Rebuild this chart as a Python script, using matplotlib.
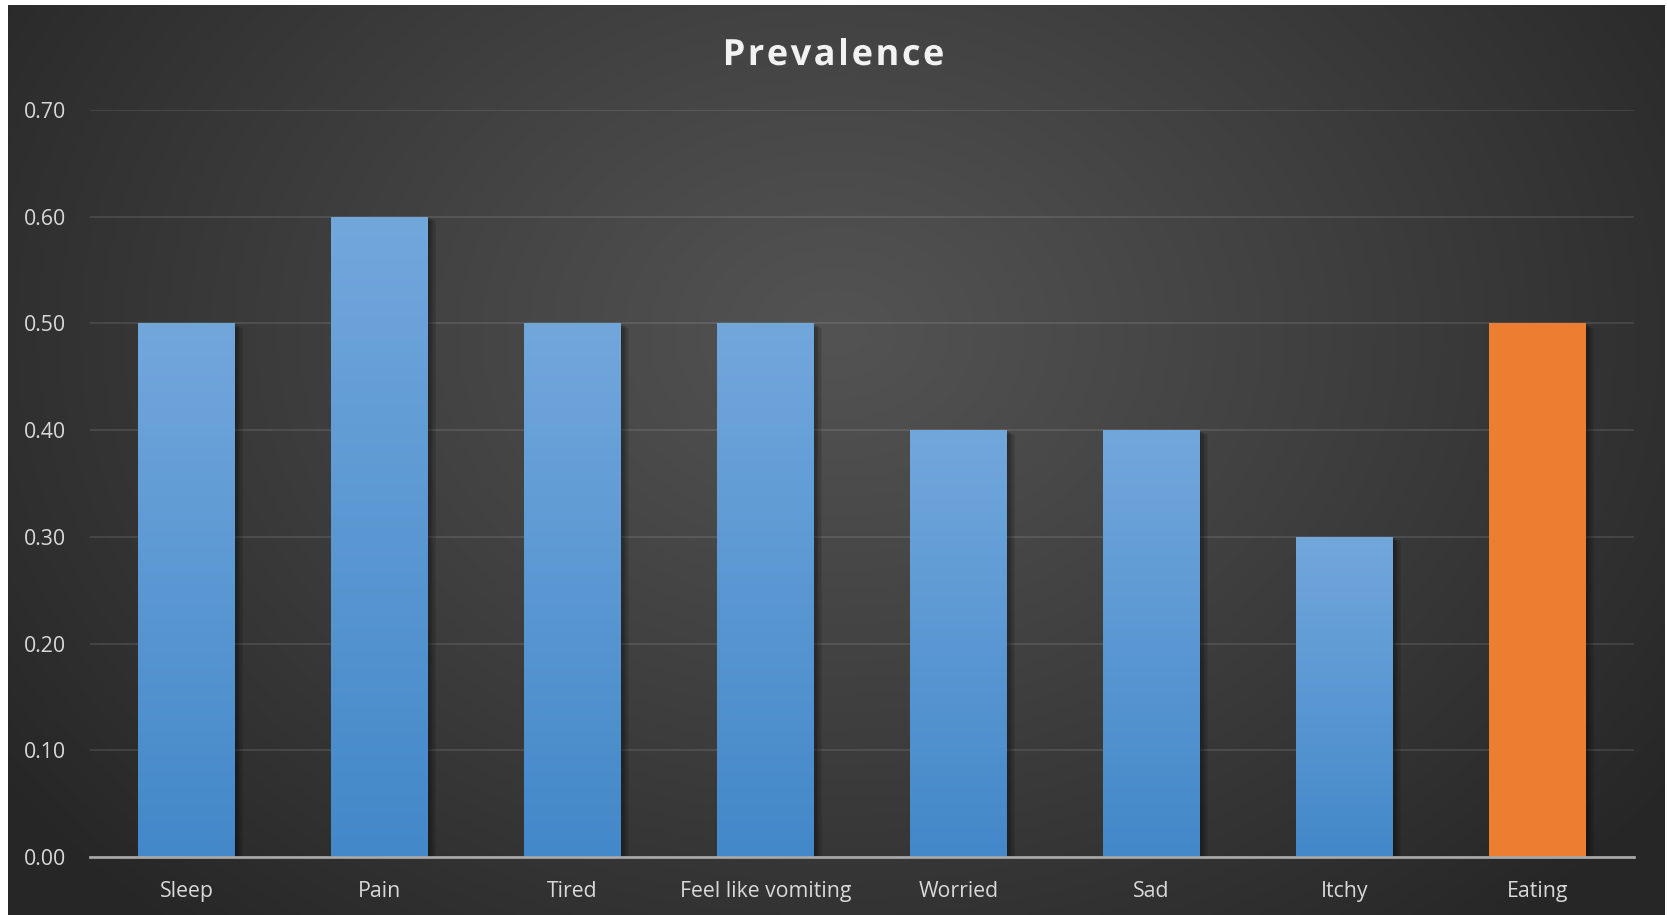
import numpy as np
import matplotlib
matplotlib.use("Agg")
import matplotlib.pyplot as plt
import matplotlib.patheffects as pe
from matplotlib.font_manager import FontProperties

categories = ["Sleep", "Pain", "Tired", "Feel like vomiting", "Worried", "Sad", "Itchy", "Eating"]
prevalence = [0.50, 0.60, 0.50, 0.50, 0.40, 0.40, 0.30, 0.50]
highlight = ["Eating"]
yticks = [0.0, 0.1, 0.2, 0.3, 0.4, 0.5, 0.6, 0.7]
title = "Prevalence"

W, H = 1667, 915
fig = plt.figure(figsize=(W / 100, H / 100), dpi=100, facecolor="white")
plt.rcParams["font.family"] = ["Open Sans", "DejaVu Sans"]

# radial dark background (Excel dark style)
bg = fig.add_axes([8 / W, 0, (1664 - 8) / W, (H - 5) / H])
bg.set_axis_off()
yy, xx = np.mgrid[0:400, 0:700]
cx, cy = 0.5 * 700, 0.36 * 400
r = np.sqrt(((xx - cx) / 700) ** 2 + ((yy - cy) / 560) ** 2)
r = np.clip(r / 0.62, 0, 1)
shade = 0.325 - (0.325 - 0.15) * r ** 1.1
bg.imshow(np.dstack([shade] * 3), aspect="auto", extent=[0, 1, 0, 1], origin="upper")
bg.set_xlim(0, 1)
bg.set_ylim(0, 1)

ax = fig.add_axes([90 / W, 58 / H, (1634 - 90) / W, (857 - 110) / H])
ax.patch.set_alpha(0)
x = np.arange(len(categories))
colors = ["#ed7d31" if c in highlight else "#5b9bd5" for c in categories]
# soft shadow: a few stacked offsets with low alpha
shadow = [pe.SimplePatchShadow(offset=(o, -o * 0.5), shadow_rgbFace="black", alpha=0.08)
          for o in (1, 2, 3, 4, 5, 6)]
bars = ax.bar(x, prevalence, width=0.5, color=colors, zorder=3,
              path_effects=shadow + [pe.Normal()])

# vertical gradient on the blue bars
grad = np.linspace(0, 1, 256).reshape(-1, 1)
top = np.array([0x72, 0xa7, 0xdc]) / 255
bot = np.array([0x43, 0x88, 0xc9]) / 255
img = top + (bot - top) * grad[..., None]
for b, c in zip(bars, categories):
    if c in highlight:
        continue
    im = ax.imshow(img, extent=[b.get_x(), b.get_x() + b.get_width(), 0, b.get_height()],
                   aspect="auto", origin="upper", zorder=4)
    im.set_clip_path(b)

ax.set_xlim(-0.5, len(categories) - 0.5)
ax.set_ylim(0, 0.7)
ax.set_yticks(yticks)
ax.set_yticklabels([f"{v:.2f}" for v in yticks])
ax.set_xticks(x)
ax.set_xticklabels(categories)
ax.tick_params(length=0, colors="#d9d9d9", labelsize=15.3)
ax.tick_params(axis="y", pad=17)
ax.tick_params(axis="x", pad=17)
for s in ["top", "right", "left"]:
    ax.spines[s].set_visible(False)
ax.spines["bottom"].set_color("#a6a6a6")
ax.spines["bottom"].set_linewidth(2)
ax.spines["bottom"].set_zorder(5)
ax.grid(axis="y", color="#ffffff", alpha=0.1, linewidth=1.5, zorder=1)
ax.set_axisbelow(True)

# title with letter spacing, placed char by char
fp = FontProperties(family="Open Sans", weight="bold", size=26)
spacing = 2.5  # px between letters
renderer = fig.canvas.get_renderer()
adv_px = [renderer.get_text_width_height_descent(ch, fp, ismath=False)[0] for ch in title]
total = sum(adv_px) + spacing * (len(title) - 1)
xpos = W / 2 - total / 2
ty = (H - 56) / H
for ch, w in zip(title, adv_px):
    fig.text(xpos / W, ty, ch, ha="left", va="center", fontproperties=fp, color="#f2f2f2",
             path_effects=[pe.withSimplePatchShadow(offset=(1.5, -1.5), alpha=0.6)])
    xpos += w + spacing

fig.savefig("out.png", dpi=100, facecolor=fig.get_facecolor())
